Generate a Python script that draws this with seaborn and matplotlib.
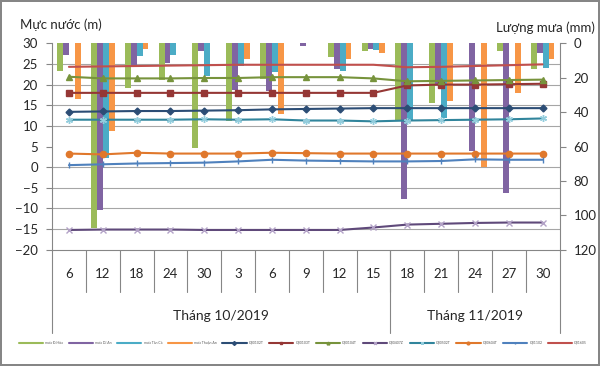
import matplotlib
matplotlib.use("Agg")
import matplotlib.pyplot as plt
import matplotlib.transforms as mtransforms
from matplotlib.lines import Line2D
from matplotlib.ticker import MultipleLocator
import numpy as np
import pandas as pd
import seaborn as sns

# category labels (day of month) and month groups
days = ["6", "12", "18", "24", "30", "3", "6", "9", "12", "15", "18", "21", "24", "27", "30"]
months = ["Tháng 10/2019", "Tháng 11/2019"]
month_sizes = [10, 5]

# rainfall (mm), right axis, bars hanging from the top
rain_names = ["mưa Đ.Hòa", "mưa Dĩ An", "mưa Tân Cả", "mưa Thuận An"]
rain_1 = [16.1, 107.6, 25.8, 21.5, 60.7, 45.4, 21.0, 0.0, 8.0, 4.3, 44.6, 34.5, 0.0, 4.3, 15.1]
rain_2 = [6.8, 96.9, 14.0, 11.2, 4.3, 27.0, 27.8, 1.8, 15.1, 3.3, 90.5, 24.2, 62.4, 87.2, 5.5]
rain_3 = [0.0, 66.5, 7.2, 6.8, 18.8, 13.3, 16.8, 0.0, 16.1, 3.9, 45.2, 43.6, 0.0, 0.0, 14.5]
rain_4 = [32.6, 50.8, 3.3, 0.0, 0.0, 9.2, 41.1, 0.0, 9.0, 5.5, 0.0, 33.7, 71.7, 29.1, 9.1]

# water level (m), left axis
level_names = ["Q00102T", "Q00103T", "Q00104T", "Q00407Z", "Q00502T", "Q00604T", "Q01102", "Q01605"]
lvl_1 = [13.4, 13.5, 13.6, 13.6, 13.7, 13.8, 14.0, 14.1, 14.2, 14.3, 14.3, 14.3, 14.3, 14.3, 14.3]
lvl_2 = [18.0, 18.0, 18.0, 18.0, 18.0, 18.0, 18.0, 18.0, 18.0, 18.0, 19.8, 20.0, 20.0, 20.1, 20.2]
lvl_3 = [21.9, 21.5, 21.5, 21.5, 21.6, 21.6, 21.8, 21.8, 21.8, 21.5, 20.8, 20.9, 21.0, 21.1, 21.2]
lvl_4 = [-15.2, -15.1, -15.1, -15.1, -15.2, -15.2, -15.2, -15.2, -15.2, -14.6, -13.9, -13.7, -13.5, -13.4, -13.4]
lvl_5 = [11.5, 11.5, 11.5, 11.5, 11.6, 11.5, 11.6, 11.3, 11.3, 11.1, 11.3, 11.4, 11.5, 11.6, 11.8]
lvl_6 = [3.3, 3.1, 3.5, 3.3, 3.3, 3.3, 3.5, 3.4, 3.3, 3.3, 3.3, 3.3, 3.3, 3.3, 3.3]
lvl_7 = [0.5, 0.7, 0.9, 1.0, 1.1, 1.4, 1.8, 1.6, 1.5, 1.4, 1.4, 1.5, 1.9, 1.8, 1.8]
lvl_8 = [24.3, 24.4, 24.5, 24.6, 24.7, 24.8, 24.8, 24.8, 24.8, 24.8, 24.2, 24.3, 24.5, 24.7, 24.9]

rain_colors = ["#9BBB59", "#8064A2", "#4BACC6", "#F79646"]
line_styles = [
    ("#2C4D75", "D", 3.5, "#2C4D75"),
    ("#953735", "s", 5, "#953735"),
    ("#77933C", "^", 5, "#77933C"),
    ("#5F497A", "x", 4.5, "#B3A2C7"),
    ("#31859C", (6, 2, 0), 5, "#93CDDD"),
    ("#E0782C", "o", 4.5, "#E0782C"),
    ("#4F81BD", "|", 5, "#4F81BD"),
    ("#C0504D", None, 0, "#C0504D"),
]

sns.set_style("white")
plt.rcParams["font.family"] = ["Lato", "Noto Sans", "DejaVu Sans"]
grey = "#868686"

idx = list(range(len(days)))
rain_df = pd.DataFrame({
    "idx": idx * 4,
    "station": sum([[n] * len(days) for n in rain_names], []),
    "mm": rain_1 + rain_2 + rain_3 + rain_4,
})
levels = [lvl_1, lvl_2, lvl_3, lvl_4, lvl_5, lvl_6, lvl_7, lvl_8]

fig = plt.figure(figsize=(6, 3.66), dpi=100)
fig.patch.set_edgecolor(grey)
fig.patch.set_linewidth(1.5)
ax_rain = fig.add_axes([0.0867, 0.3175, 0.8458, 0.5642])
# lines go on the twin so they are drawn above the bars
ax_lvl = ax_rain.twinx()

sns.barplot(data=rain_df, x="idx", y="mm", hue="station", hue_order=rain_names,
            palette=rain_colors, width=0.7, saturation=1, errorbar=None,
            linewidth=0, legend=False, ax=ax_rain)
ax_rain.set_ylim(120, 0)
ax_rain.set_xlim(-0.5, len(days) - 0.5)
ax_rain.set_xticks([])
ax_rain.set_xlabel("")
ax_rain.set_ylabel("")
ax_rain.yaxis.set_major_locator(MultipleLocator(20))
ax_rain.yaxis.set_minor_locator(MultipleLocator(12))
ax_rain.grid(which="minor", axis="y", color="#A6A6A6", lw=0.8)
ax_rain.set_axisbelow(True)
ax_rain.spines["top"].set_visible(False)
for s in ["left", "right", "bottom"]:
    ax_rain.spines[s].set_color(grey)
    ax_rain.spines[s].set_linewidth(0.8)

for vals, name, (col, mk, ms, mcol) in zip(levels, level_names, line_styles):
    sns.lineplot(x=idx, y=vals, color=col, lw=1.5, marker=mk, markersize=ms,
                 markerfacecolor=mcol, markeredgecolor=mcol, markeredgewidth=1,
                 ax=ax_lvl)
ax_lvl.set_ylim(-20, 30)
ax_lvl.yaxis.set_major_locator(MultipleLocator(5))
for s in ax_lvl.spines.values():
    s.set_visible(False)

# swap sides: water level on the left, rainfall on the right
ax_rain.yaxis.set_ticks_position("right")
ax_rain.yaxis.set_label_position("right")
ax_rain.tick_params(axis="y", which="major", length=4, width=0.8, color=grey,
                    labelsize=9.5, pad=6, right=True, left=False,
                    labelright=True, labelleft=False)
ax_rain.tick_params(axis="y", which="minor", length=0, left=False, right=False)
ax_lvl.yaxis.set_ticks_position("left")
ax_lvl.yaxis.set_label_position("left")
ax_lvl.tick_params(axis="y", length=4, width=0.8, color=grey, labelsize=9.5, pad=6,
                   left=True, right=False, labelleft=True, labelright=False)
ax_lvl.set_ylabel("")

# two-level category axis
trans = mtransforms.blended_transform_factory(ax_rain.transData, ax_rain.transAxes)
for i, d in enumerate(days):
    ax_rain.text(i, -0.119, d, transform=trans, ha="center", va="center", fontsize=9.5)
for i in range(1, len(days)):
    ax_rain.plot([i - 0.5, i - 0.5], [0, -0.206], transform=trans, color=grey,
                 lw=0.8, clip_on=False)
bounds = np.concatenate([[0], np.cumsum(month_sizes)]) - 0.5
for b in bounds:
    ax_rain.plot([b, b], [0, -0.403], transform=trans, color=grey, lw=0.8, clip_on=False)
for m, a, b in zip(months, bounds[:-1], bounds[1:]):
    ax_rain.text((a + b) / 2, -0.323, m, transform=trans, ha="center", va="center",
                 fontsize=10)

fig.text(20 / 600, 1 - 25 / 366, "Mực nước (m)", ha="left", va="center", fontsize=9.5)
fig.text(595 / 600, 1 - 28 / 366, "Lượng mưa (mm)", ha="right", va="center", fontsize=9.5)

handles = [Line2D([], [], color=c, lw=1.5) for c in rain_colors]
for col, mk, ms, mcol in line_styles:
    handles.append(Line2D([], [], color=col, lw=1.5, marker=mk, markersize=2,
                          markerfacecolor=mcol, markeredgecolor=mcol))
fig.legend(handles, rain_names + level_names, loc="center", bbox_to_anchor=(0.505, 0.063),
           ncol=12, fontsize=2.5, frameon=False, handlelength=7, handletextpad=0.6,
           columnspacing=1.6, labelcolor="#595959")

fig.savefig("out.png", dpi=100)
